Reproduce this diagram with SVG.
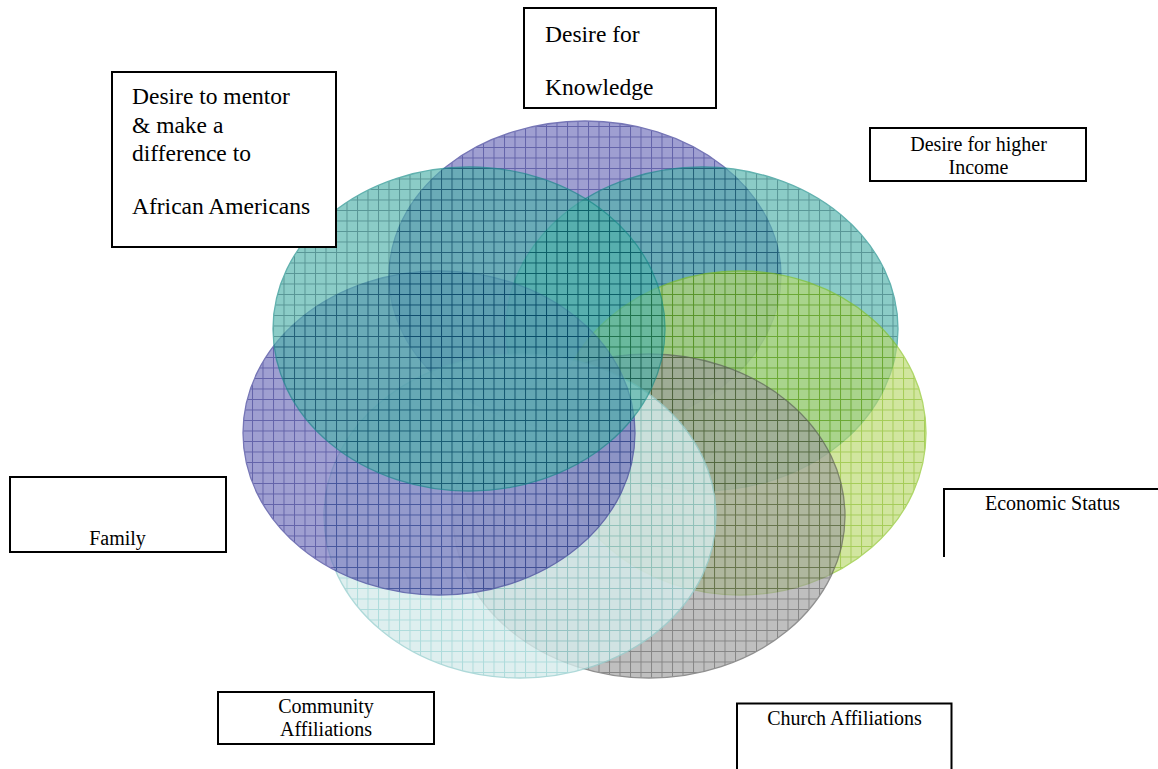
<svg xmlns="http://www.w3.org/2000/svg" width="1158" height="769" viewBox="0 0 1158 769">
  <style>
    .box { fill: #ffffff; stroke: #000000; stroke-width: 2; }
    .edge { fill: none; stroke: #000000; stroke-width: 2; }
    .lbl { font-family: "Liberation Serif", "Times New Roman", serif; fill: #000000; }
    .big { font-size: 23.5px; }
    .small { font-size: 20px; }
    .mid { text-anchor: middle; }
    .venn { opacity: 0.65; stroke-width: 1.3; }
    .venn.cyan { opacity: 0.8; }
    .purple { fill: url(#gridPurple); stroke: #2e2e90; }
    .teal { fill: url(#gridTeal); stroke: #0e8884; }
    .green { fill: url(#gridGreen); stroke: #86c21a; }
    .gray { fill: url(#gridGray); stroke: #555555; }
    .cyan { fill: url(#gridCyan); stroke: #9bd0d0; }
  </style>
  <defs>
    <!-- grid fills: light base colour with darker 1px lines on a 10.5px pitch -->
    <pattern id="gridPurple" width="10.5" height="10.5" patternUnits="userSpaceOnUse">
      <rect width="10.5" height="10.5" fill="#6d6dba"/>
      <path d="M0 0.5H10.5M0.5 0V10.5" stroke="#10107c" stroke-width="1"/>
    </pattern>
    <pattern id="gridTeal" width="10.5" height="10.5" patternUnits="userSpaceOnUse">
      <rect width="10.5" height="10.5" fill="#4eb2aa"/>
      <path d="M0 0.5H10.5M0.5 0V10.5" stroke="#005e5e" stroke-width="1"/>
    </pattern>
    <pattern id="gridGreen" width="10.5" height="10.5" patternUnits="userSpaceOnUse">
      <rect width="10.5" height="10.5" fill="#bad96d"/>
      <path d="M0 0.5H10.5M0.5 0V10.5" stroke="#75b200" stroke-width="1"/>
    </pattern>
    <pattern id="gridGray" width="10.5" height="10.5" patternUnits="userSpaceOnUse">
      <rect width="10.5" height="10.5" fill="#9e9e9e"/>
      <path d="M0 0.5H10.5M0.5 0V10.5" stroke="#464646" stroke-width="1"/>
    </pattern>
    <pattern id="gridCyan" width="10.5" height="10.5" patternUnits="userSpaceOnUse">
      <rect width="10.5" height="10.5" fill="#d6ecec"/>
      <path d="M0 0.5H10.5M0.5 0V10.5" stroke="#9bd3d3" stroke-width="1"/>
    </pattern>
  </defs>

  <rect width="1158" height="769" fill="#ffffff"/>

  <!-- seven overlapping circles, drawn clockwise from the top -->
  <g id="venn">
    <g id="circle-top"><ellipse class="venn purple" cx="585" cy="276" rx="196" ry="155"/></g>
    <g id="circle-top-right"><ellipse class="venn teal" cx="702" cy="329" rx="196" ry="162"/></g>
    <g id="circle-right"><ellipse class="venn green" cx="740" cy="433" rx="186" ry="162"/></g>
    <g id="circle-bottom-right"><ellipse class="venn gray" cx="649" cy="516" rx="196" ry="162"/></g>
    <g id="circle-bottom"><ellipse class="venn cyan" cx="520" cy="516" rx="196" ry="162"/></g>
    <g id="circle-left"><ellipse class="venn purple" cx="439" cy="433" rx="196" ry="162"/></g>
    <g id="circle-top-left"><ellipse class="venn teal" cx="469" cy="329" rx="196" ry="162"/></g>
  </g>

  <!-- label boxes -->
  <g id="knowledge">
    <rect class="box" x="524" y="8" width="192" height="100"/>
    <text class="lbl big" x="545" y="41.5">Desire for</text>
    <text class="lbl big" x="545" y="94.5">Knowledge</text>
  </g>

  <g id="mentor">
    <rect class="box" x="112" y="72" width="224" height="175"/>
    <text class="lbl big" x="132" y="104">Desire to mentor</text>
    <text class="lbl big" x="132" y="132.5">&amp; make a</text>
    <text class="lbl big" x="132" y="160.5">difference to</text>
    <text class="lbl big" x="132" y="214">African Americans</text>
  </g>

  <g id="income">
    <rect class="box" x="870" y="128" width="216" height="53"/>
    <text class="lbl small mid" x="978.5" y="151">Desire for higher</text>
    <text class="lbl small mid" x="978.5" y="173.5">Income</text>
  </g>

  <g id="economic">
    <path class="edge" d="M944 557V489H1158"/>
    <text class="lbl small mid" x="1052.5" y="510">Economic Status</text>
  </g>

  <g id="family">
    <rect class="box" x="10" y="477" width="216" height="75"/>
    <text class="lbl small mid" x="117.5" y="545">Family</text>
  </g>

  <g id="community">
    <rect class="box" x="218" y="692" width="216" height="52"/>
    <text class="lbl small mid" x="326" y="713">Community</text>
    <text class="lbl small mid" x="326" y="735.5">Affiliations</text>
  </g>

  <g id="church">
    <path class="edge" d="M737 770V703.5H951.5V770"/>
    <text class="lbl small mid" x="844.5" y="725">Church Affiliations</text>
  </g>
</svg>
